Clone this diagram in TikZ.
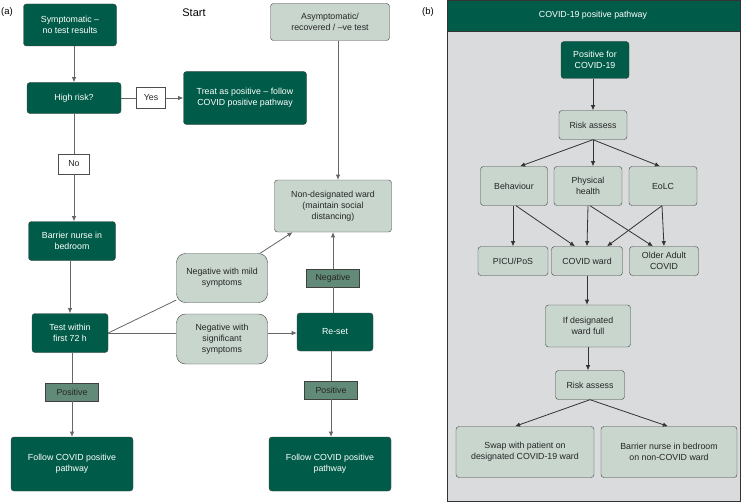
\documentclass[tikz,border=0pt]{standalone}
\usepackage{fontspec}
\setmainfont{Liberation Sans}
\usetikzlibrary{
  arrows.meta,
  positioning,
  backgrounds,
}
\tikzset{
  >={Latex[width=1.6mm,length=1.8mm]},
}
\definecolor{cv_green}{RGB}{0,92,72}
\definecolor{cv_pale}{RGB}{200,214,206}
\definecolor{cv_tag}{RGB}{98,138,120}
\definecolor{cv_back}{RGB}{218,219,221}
\tikzset{
  darkbox/.style={draw=black!75, fill=cv_green, text=white, rounded corners=3pt,
    align=center, inner sep=1pt},
  palebox/.style={draw=black!75, fill=cv_pale, text=black!85, rounded corners=3pt,
    align=center, inner sep=1pt},
  bubble/.style={palebox, rounded corners=9pt},
  tagbox/.style={draw=black!75, fill=cv_tag, text=black!85, inner sep=1pt},
  answer/.style={draw=black!70, fill=white, text=black!85, inner sep=1pt},
  link/.style={draw=black!60, line width=0.8pt},
  blink/.style={draw=black!80, line width=0.8pt},
}

\begin{document}
\begin{tikzpicture}[x=1pt, y=-1pt, font=\fontsize{8.8}{11}\selectfont]
    \useasboundingbox (0,0) rectangle (742,503);

    % panel (a)
    \node at (7,12) {\fontsize{9.5}{11}\selectfont (a)};
    \node at (194,13) {\fontsize{11}{13}\selectfont Start};

    \node[darkbox, minimum width=93, minimum height=42] (sympt) at (70,25) {Symptomatic --\\no test results};
    \node[darkbox, minimum width=94, minimum height=31] (risk) at (74,98) {High risk?};
    \node[answer, minimum width=29, minimum height=21] (yes) at (151,98) {Yes};
    \node[darkbox, minimum width=123, minimum height=53] (treat) at (245,98) {Treat as positive -- follow\\COVID positive pathway};
    \node[answer, minimum width=31, minimum height=20] (no) at (74,164) {No};
    \node[darkbox, minimum width=87, minimum height=39] (barrier) at (72,241) {Barrier nurse in\\bedroom};
    \node[darkbox, minimum width=76, minimum height=39] (test) at (70,333) {Test within\\first 72 h};
    \node[tagbox, minimum width=53, minimum height=18] (posa) at (72,392) {Positive};
    \node[darkbox, minimum width=122, minimum height=54] (followa) at (72,464) {Follow COVID positive\\pathway};

    \node[palebox, minimum width=119, minimum height=37] (asym) at (330,22) {Asymptomatic/\\recovered / --ve test};
    \node[palebox, minimum width=117, minimum height=52] (ward) at (333,206) {Non-designated ward\\(maintain social\\distancing)};
    \node[bubble, minimum width=91, minimum height=49] (mild) at (222,278) {Negative with mild\\symptoms};
    \node[bubble, minimum width=91, minimum height=50] (signif) at (222,339) {Negative with\\significant\\symptoms};
    \node[darkbox, minimum width=76, minimum height=38] (reset) at (335,332) {Re-set};
    \node[tagbox, minimum width=53, minimum height=18] (neg) at (333,278) {Negative};
    \node[tagbox, minimum width=53, minimum height=18] (posb) at (331,390) {Positive};
    \node[darkbox, minimum width=122, minimum height=54] (followb) at (330,464) {Follow COVID positive\\pathway};

    \draw[link, ->] (sympt.south -| risk) -- (risk.north);
    \draw[link] (risk.east) -- (yes.west);
    \draw[link, ->] (yes.east) -- (treat.west);
    \draw[link] (risk.south) -- (no.north);
    \draw[link, ->] (no.south) -- (no.south |- barrier.north);
    \draw[link, ->] (barrier.south -| test) -- (test.north);
    \draw[link] (test.south -| posa) -- (posa.north);
    \draw[link, ->] (posa.south) -- (followa.north -| posa);
    \draw[link] (test.east) -- (mild);
    \draw[link, ->] (mild) -- (ward);
    \draw[link] (test.east) -- (test.east -| signif.west);
    \draw[link, ->] (signif.east |- test.east) -- (reset.west |- test.east);
    \draw[link] (reset.north -| neg) -- (neg.south);
    \draw[link, ->] (neg.north) -- (neg.north |- ward.south);
    \draw[link] (reset.south -| posb) -- (posb.north);
    \draw[link, ->] (posb.south) -- (posb.south |- followb.north);
    \draw[link, ->] ([xshift=5]ward.north |- asym.south) -- ([xshift=5]ward.north);

    % panel (b)
    \node at (428,12) {\fontsize{9.5}{11}\selectfont (b)};
    \begin{scope}[on background layer]
      \draw[black!80, fill=cv_back] (447,0) rectangle (740,501);
      \draw[black!80, fill=cv_green] (447,0) rectangle (740,31);
    \end{scope}
    \node[text=white] (title) at (593,15) {COVID-19 positive pathway};

    \node[darkbox, minimum width=68, minimum height=37] (positive) at (595,60) {Positive for\\COVID-19};
    \node[palebox, minimum width=68, minimum height=29] (assessa) at (593,125) {Risk assess};
    \node[palebox, minimum width=67, minimum height=39] (behav) at (514,186) {Behaviour};
    \node[palebox, minimum width=68, minimum height=39] (phys) at (588,186) {Physical\\health};
    \node[palebox, minimum width=68, minimum height=39] (eolc) at (663,186) {EoLC};
    \node[palebox, minimum width=70, minimum height=29] (picu) at (513,261) {PICU/PoS};
    \node[palebox, minimum width=71, minimum height=29] (covward) at (587,261) {COVID ward};
    \node[palebox, minimum width=69, minimum height=29] (older) at (664,261) {Older Adult\\COVID};
    \node[palebox, minimum width=85, minimum height=42] (full) at (588,326) {If designated\\ward full};
    \node[palebox, minimum width=69, minimum height=29] (assessb) at (590,385) {Risk assess};
    \node[palebox, minimum width=138, minimum height=51] (swap) at (525,452) {Swap with patient on\\designated COVID-19 ward};
    \node[palebox, minimum width=136, minimum height=51] (nurse) at (669,452) {Barrier nurse in bedroom\\on non-COVID ward};

    \draw[blink, ->] (positive.south -| assessa) -- (assessa.north);
    \draw[blink, ->] (assessa.south) -- ([xshift=6]behav.north);
    \draw[blink, ->] (assessa.south) -- (assessa.south |- phys.north);
    \draw[blink, ->] (assessa.south) -- ([xshift=-3]eolc.north);
    \draw[blink, ->] (behav.south -| picu) -- (picu.north);
    \draw[blink, ->] ([xshift=2]behav.south) -- ([xshift=-12]covward.north);
    \draw[blink, ->] (phys.south) -- (covward.north);
    \draw[blink, ->] ([xshift=2]phys.south) -- ([xshift=-11]older.north);
    \draw[blink, ->] ([xshift=-1]eolc.south) -- ([xshift=20]covward.north);
    \draw[blink, ->] ([xshift=-1]eolc.south) -- (older.north);
    \draw[blink, ->] (covward.south) -- (covward.south |- full.north);
    \draw[blink, ->] (full.south) -- (full.south |- assessb.north);
    \draw[blink, ->] (assessb.south) -- ([xshift=-10]swap.north);
    \draw[blink, ->] (assessb.south) -- ([xshift=-1]nurse.north);
  \end{tikzpicture}
\end{document}
